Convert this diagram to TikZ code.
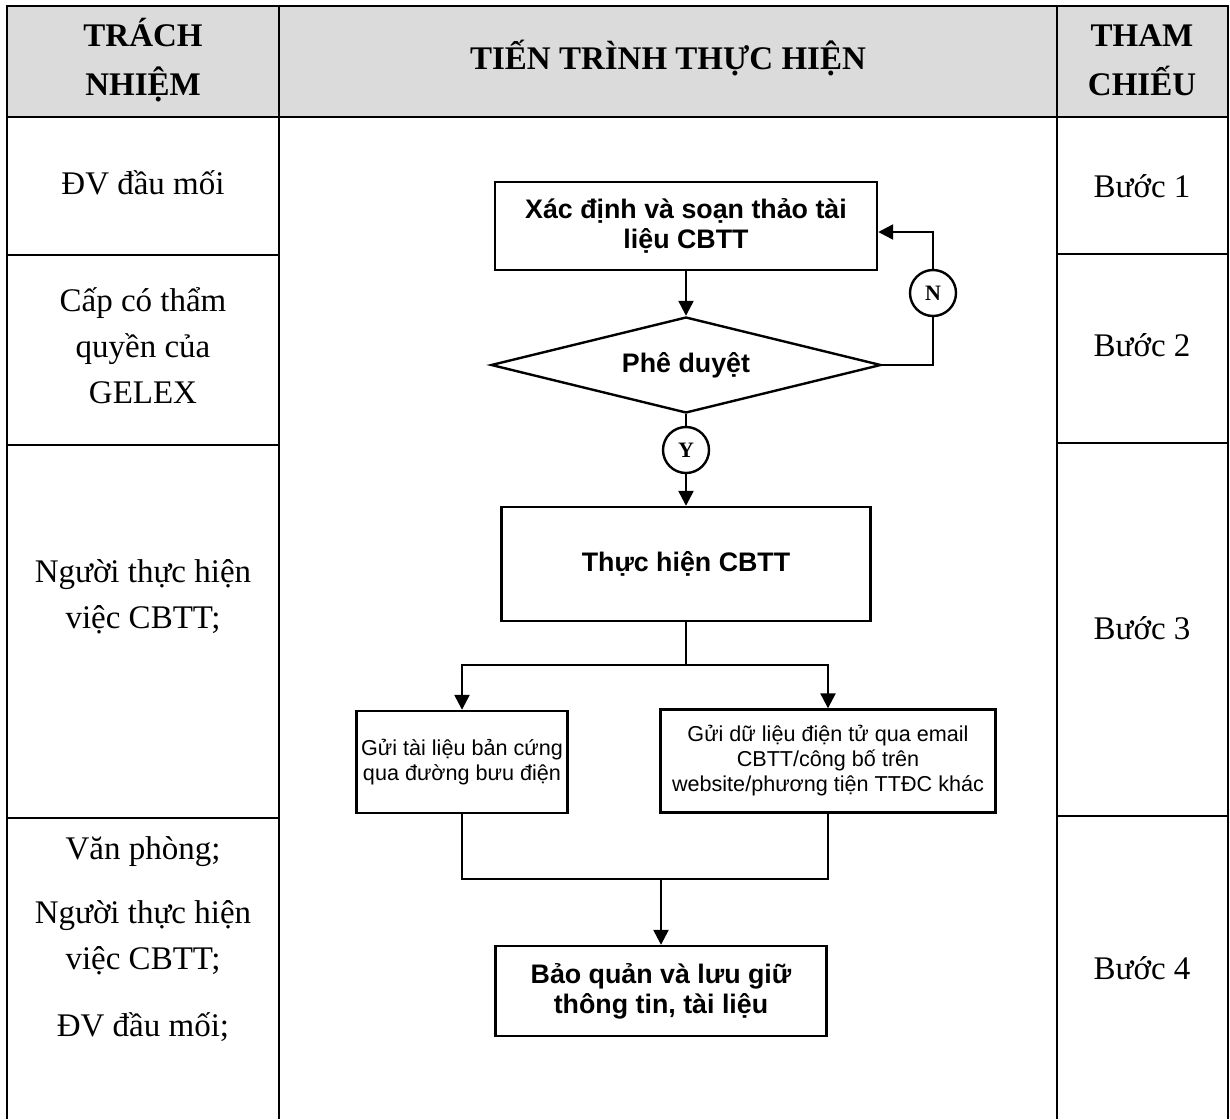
\documentclass[tikz,border=0pt]{standalone}
\usepackage{fontspec}
\setmainfont{Liberation Serif}
\setsansfont{Liberation Sans}
\usetikzlibrary{shapes.geometric,arrows.meta}
\tikzset{
  fbox/.style={draw,line width=1.2pt,rectangle,inner sep=0pt,align=center,font=\sffamily\bfseries\fontsize{13.4}{15}\selectfont},
  fsmall/.style={fbox,font=\sffamily\mdseries\fontsize{10.8}{12.5}\selectfont},
  fdia/.style={draw,line width=1.2pt,diamond,aspect=4.06,inner sep=0pt,minimum width=195pt,minimum height=48pt,font=\sffamily\bfseries\fontsize{13.4}{15}\selectfont},
  fcirc/.style={draw,line width=1.2pt,circle,inner sep=0pt,minimum size=23pt,font=\bfseries\fontsize{11}{11}\selectfont},
  flink/.style={line width=1.2pt},
  farr/.style={flink,-{Triangle[length=7.5pt,width=7.5pt]}},
  hdr/.style={align=center,font=\bfseries\fontsize{16.5}{24.5}\selectfont},
  lbl/.style={align=center,font=\fontsize{16.5}{23}\selectfont},
  tline/.style={line width=1pt}
}
\begin{document}
\begin{tikzpicture}[x=0.5pt,y=-0.5pt]
        \useasboundingbox (0,0) rectangle (1230,1119);
        \def\L{7}\def\A{279}\def\B{1057}\def\R{1228}
        \fill[black!14] (\L,6) rectangle (\R,117);
        \draw[tline] (\L,1119) -- (\L,6) -- (\R,6) -- (\R,1119);
        \draw[tline] (\L,117) -- (\R,117);
        \foreach\x in {\A,\B}{\draw[tline] (\x,6) -- (\x,1119);}
        \foreach\y in {255,445,818}{\draw[tline] (\L,\y) -- (\A,\y);}
        \foreach\y in {254,443,816}{\draw[tline] (\B,\y) -- (\R,\y);}
        \node[hdr] (hresp) at (143,60) {TRÁCH\\NHIỆM};
        \node[hdr] (hflow) at (668,58) {TIẾN TRÌNH THỰC HIỆN};
        \node[hdr] (hstep) at (1142,60) {THAM\\CHIẾU};
        \node[lbl] (resp1) at (143,183) {ĐV đầu mối};
        \node[lbl] (resp2) at (143,346) {Cấp có thẩm\\quyền của\\GELEX};
        \node[lbl] (resp3) at (143,597) {Người thực hiện\\việc CBTT;};
        \node[lbl] (resp4a) at (143,852) {Văn phòng;};
        \node[lbl] (resp4b) at (143,938) {Người thực hiện\\việc CBTT;};
        \node[lbl] (resp4c) at (143,1027) {ĐV đầu mối;};
        \foreach\n/\y in {1/186,2/345,3/628,4/968}{
            \node[lbl] (step\n) at (1142,\y) {Bước \n};
        }
        \node[fbox,minimum width=191pt,minimum height=44pt] (draft) at (686,226) {Xác định và soạn thảo tài\\liệu CBTT};
        \node[fdia] (approve) at (686,365) {Phê duyệt};
        \node[fcirc] (no) at (933,293) {N};
        \node[fcirc] (yes) at (686,450) {Y};
        \node[fbox,minimum width=184.5pt,minimum height=57pt] (exec) at (686,564) {Thực hiện CBTT};
        \node[fsmall,minimum width=105.5pt,minimum height=51pt] (post) at (462,762) {Gửi tài liệu bản cứng\\qua đường bưu điện};
        \node[fsmall,minimum width=167.5pt,minimum height=51.5pt] (email) at (828,761) {Gửi dữ liệu điện tử qua email\\CBTT/công bố trên\\website/phương tiện TTĐC khác};
        \node[fbox,minimum width=165.5pt,minimum height=45pt] (store) at (661,991) {Bảo quản và lưu giữ\\thông tin, tài liệu};
        \coordinate (split) at (686,665);
        \coordinate (join) at (661,879);
        \draw[farr] (draft) -- (approve);
        \draw[flink] (approve.east) -| (no.south);
        \draw[farr] (no.north) |- ([yshift=-3pt]draft.east);
        \draw[flink] (approve) -- (yes);
        \draw[farr] (yes) -- (exec);
        \draw[flink] (exec) -- (split);
        \draw[farr] (split) -| (post.north);
        \draw[farr] (split) -| (email.north);
        \draw[flink] (post.south) |- (join);
        \draw[flink] (email.south) |- (join);
        \draw[farr] (join) -- (store);
\end{tikzpicture}
\end{document}
